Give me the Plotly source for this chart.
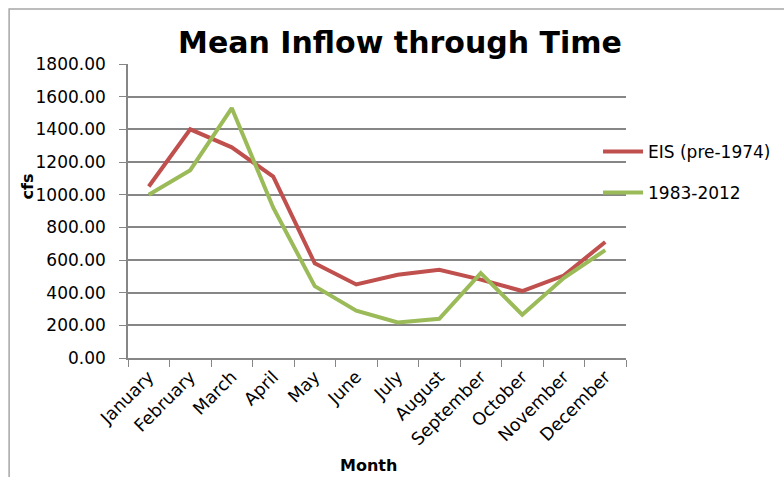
import plotly.graph_objects as go

months = ["January", "February", "March", "April", "May", "June", "July",
          "August", "September", "October", "November", "December"]
eis_pre1974 = [1050, 1400, 1290, 1110, 580, 450, 510, 540, 480, 410, 505, 710]
recent_1983_2012 = [1000, 1150, 1530, 920, 440, 290, 218, 240, 520, 265, 490, 660]
y_ticks = [0, 200, 400, 600, 800, 1000, 1200, 1400, 1600, 1800]

W, H = 784, 477
L, R, T, B = 127.5, 158, 64, 118.7
pw, ph = W - L - R, H - T - B

FONT = "'DejaVu Sans', sans-serif"


def px_x(v):
    return (v - L) / pw


def px_y(v):
    return 1 - (v - T) / ph


fig = go.Figure()
fig.add_trace(go.Scatter(x=months, y=eis_pre1974, mode="lines", name="EIS (pre-1974)",
                         line=dict(color="#C0504D", width=4), legend="legend"))
fig.add_trace(go.Scatter(x=months, y=recent_1983_2012, mode="lines", name="1983-2012",
                         line=dict(color="#9BBB59", width=4), legend="legend2"))

# outer chart frame (left and top edges visible)
fig.add_shape(type="rect", xref="paper", yref="paper",
              x0=px_x(8.5), x1=px_x(800), y0=px_y(9), y1=px_y(500),
              line=dict(color="#A6A6A6", width=1.5), fillcolor="rgba(0,0,0,0)",
              layer="below")

# axis titles
fig.add_annotation(text="<b>Month</b>", xref="paper", yref="paper",
                   x=px_x(368), y=px_y(466), xanchor="center", yanchor="middle",
                   showarrow=False, font=dict(size=16, family=FONT))
fig.add_annotation(text="<b>cfs</b>", xref="paper", yref="paper",
                   x=px_x(27), y=px_y(187), xanchor="center", yanchor="middle",
                   textangle=-90, showarrow=False, font=dict(size=16, family=FONT))

legend_common = dict(xanchor="left", yanchor="middle", font=dict(size=17, family=FONT),
                     bgcolor="rgba(0,0,0,0)", itemwidth=40)

fig.update_layout(
    width=W, height=H,
    margin=dict(l=L, r=R, t=T, b=B, autoexpand=False),
    paper_bgcolor="white", plot_bgcolor="white",
    font=dict(family=FONT, color="black"),
    title=dict(text="<b>Mean Inflow through Time</b>", xref="container", yref="container",
               x=400 / W, xanchor="center", y=1 - 42 / H, yanchor="middle",
               font=dict(size=30, family=FONT)),
    showlegend=True,
    legend=dict(x=px_x(598), y=px_y(152), **legend_common),
    legend2=dict(x=px_x(598), y=px_y(193), **legend_common),
    xaxis=dict(
        type="category", tickangle=-45, tickfont=dict(size=17.5, family=FONT),
        showgrid=False, showline=True, linecolor="#868686", linewidth=1.5,
        ticks="outside", tickson="boundaries", ticklen=7, tickcolor="#868686",
        range=[-0.5, 11.5], automargin=False,
    ),
    yaxis=dict(
        range=[0, 1800], tickvals=y_ticks, tickformat=".2f",
        tickfont=dict(size=17, family=FONT), ticklabelstandoff=10,
        showgrid=True, gridcolor="#868686", gridwidth=1.5,
        showline=True, linecolor="#868686", linewidth=1.5,
        ticks="outside", ticklen=7, tickcolor="#868686",
        zeroline=False, automargin=False,
    ),
)

fig.write_html("out.html")
